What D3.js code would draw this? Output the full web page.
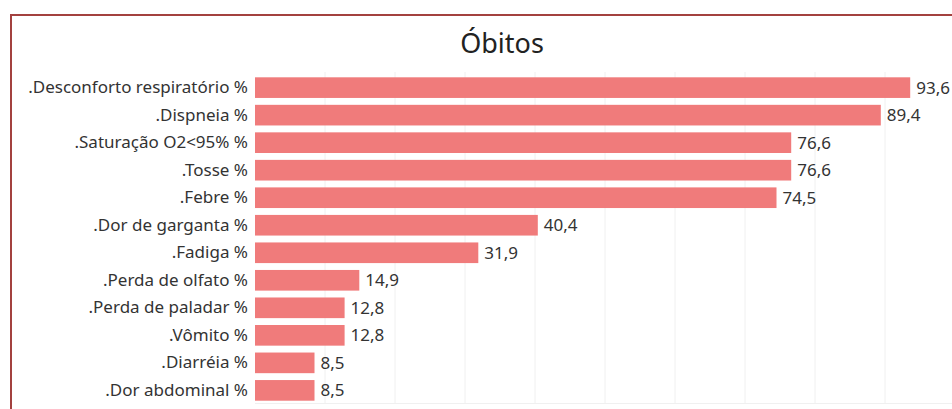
<!DOCTYPE html>
<html>
<head>
<meta charset="utf-8">
<script src="https://cdn.jsdelivr.net/npm/d3@7"></script>
<style>
  html, body { margin: 0; padding: 0; background: #fff; overflow: hidden; }
  svg { display: block; font-family: "Noto Sans", "Open Sans", sans-serif; }
</style>
</head>
<body>
<svg id="chart" width="952" height="409"></svg>
<script>
// sintomas e percentuais (óbitos)
const sintomas = [".Desconforto respiratório %", ".Dispneia %", ".Saturação O2<95% %", ".Tosse %", ".Febre %",
  ".Dor de garganta %", ".Fadiga %", ".Perda de olfato %", ".Perda de paladar %", ".Vômito %", ".Diarréia %", ".Dor abdominal %"];
const valores = [93.6, 89.4, 76.6, 76.6, 74.5, 40.4, 31.9, 14.9, 12.8, 12.8, 8.5, 8.5];
const gradeX = [10, 20, 30, 40, 50, 60, 70, 80, 90];

const svg = d3.select("#chart");
const W = 952, H = 409;

// moldura vermelha
svg.append("path")
  .attr("d", `M11,${H + 2} L11,15 L${W + 2},15`)
  .attr("fill", "none").attr("stroke", "#a3413f").attr("stroke-width", 2);

// título
svg.append("text")
  .attr("x", 502).attr("y", 53)
  .attr("text-anchor", "middle")
  .attr("font-size", 27).attr("fill", "#222")
  .text("Óbitos");

let x = d3.scaleLinear().domain([0, 100]).range([255, 955]);
let y = d3.scaleBand().domain(sintomas).range([74, 404]).paddingInner(0.25).paddingOuter(0.12);

// linhas de grade
svg.append("g").selectAll("line").data(gradeX).enter().append("line")
  .attr("x1", d => x(d)).attr("x2", d => x(d))
  .attr("y1", 72).attr("y2", 403)
  .attr("stroke", "#f0f0f0").attr("stroke-width", 1);
svg.append("line")
  .attr("x1", 255).attr("x2", W).attr("y1", 403.5).attr("y2", 403.5)
  .attr("stroke", "#f0f0f0");

// eixo das categorias
const eixoY = svg.append("g").attr("transform", "translate(248,0)")
  .call(d3.axisLeft(y).tickSize(0).tickPadding(0));
eixoY.select(".domain").remove();
eixoY.selectAll("text").attr("font-size", 17).attr("fill", "#333")
  .attr("font-family", "Noto Sans, Open Sans, sans-serif");

// barras
svg.append("g").selectAll("rect").data(valores).enter().append("rect")
  .attr("x", x(0))
  .attr("y", (d, i) => y(sintomas[i]))
  .attr("width", d => x(d) - x(0))
  .attr("height", y.bandwidth())
  .attr("fill", "#f07b7b");

// rótulos de valor
const fmt = d3.formatLocale({ decimal: ",", thousands: ".", grouping: [3], currency: ["R$", ""] }).format(".1f");
svg.append("g").selectAll("text").data(valores).enter().append("text")
  .attr("x", d => x(d) + 6)
  .attr("y", (d, i) => y(sintomas[i]) + y.bandwidth() / 2)
  .attr("dy", "0.35em")
  .attr("font-size", 17).attr("fill", "#333")
  .text(d => fmt(d));
</script>
</body>
</html>
